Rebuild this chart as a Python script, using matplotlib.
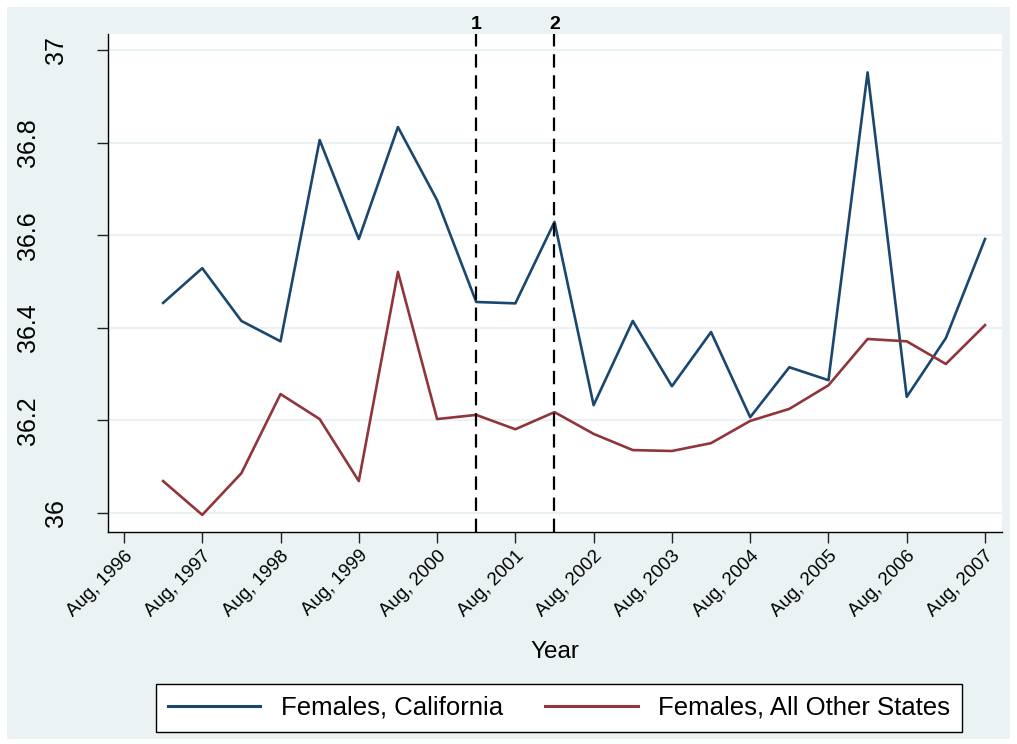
import matplotlib
matplotlib.use("Agg")
import matplotlib.pyplot as plt
from matplotlib.patches import Rectangle

# half-yearly observations, Feb 1997 .. Aug 2007
periods = [(y, m) for y in range(1997, 2008) for m in (2, 8)]
california = [36.454, 36.529, 36.415, 36.371, 36.806, 36.592, 36.834, 36.676,
              36.456, 36.453, 36.629, 36.233, 36.415, 36.274, 36.391, 36.207,
              36.315, 36.287, 36.952, 36.251, 36.378, 36.592]
other_states = [36.069, 35.996, 36.086, 36.257, 36.203, 36.069, 36.521, 36.203,
                36.212, 36.181, 36.218, 36.171, 36.136, 36.134, 36.151, 36.199,
                36.225, 36.276, 36.376, 36.371, 36.322, 36.406]
tick_years = list(range(1996, 2008))
tick_labels = [f"Aug, {y}" for y in tick_years]
yticks = [36, 36.2, 36.4, 36.6, 36.8, 37]
ytick_labels = ["36", "36.2", "36.4", "36.6", "36.8", "37"]
event_dates = [(2001, 2), (2002, 2)]
event_labels = ["1", "2"]

def to_x(y, m):
    return y + (m - 1) / 12.0

x = [to_x(y, m) for y, m in periods]
xticks = [to_x(y, 8) for y in tick_years]

navy = "#1A476F"
maroon = "#90353B"
bg = "#EAF2F3"

plt.rcParams['font.family'] = ['Liberation Sans', 'DejaVu Sans']

fig = plt.figure(figsize=(10.17, 7.44), dpi=100)
fig.patch.set_facecolor("white")
W, H = 1017, 744
fig.patches.append(Rectangle((7 / W, 5 / H), 1003 / W, 732 / H, transform=fig.transFigure,
                             facecolor=bg, edgecolor="none", zorder=-5))

ax_left, ax_w = 108, 1002 - 108
ax = fig.add_axes([ax_left / W, 1 - 532 / H, ax_w / W, (532 - 34) / H])
ax.set_zorder(1)
ax.set_facecolor("white")

ax.plot(x, california, color=navy, lw=1.9, label="Females, California", zorder=3)
ax.plot(x, other_states, color=maroon, lw=1.9, label="Females, All Other States", zorder=3)

for (y, m), lab in zip(event_dates, event_labels):
    xe = to_x(y, m)
    ax.axvline(xe, color="black", lw=1.6, linestyle=(0, (6, 3.5)), zorder=4)
    ax.text(xe, 1.003, lab, transform=ax.get_xaxis_transform(), ha="center", va="bottom",
            fontsize=14, fontweight="bold")

ax.set_xlim(xticks[0] - 0.204, xticks[-1] + 0.217)
ax.set_ylim(35.959, 37.035)
ax.set_yticks(yticks)
ax.set_yticklabels([])
# vertical y labels, placed the way the original sets them (short ones closer to the axis)
for v, lab in zip(yticks, ytick_labels):
    cx = 56 if len(lab) <= 2 else 28
    ax.text((cx - ax_left) / ax_w, v, lab, transform=ax.get_yaxis_transform(), rotation=90,
            ha="center", va="center", fontsize=18, clip_on=False)
ax.set_xticks(xticks)
ax.set_xticklabels(tick_labels, rotation=45, ha="right", rotation_mode="anchor", fontsize=13.5)
ax.tick_params(axis="both", length=8, width=1, color="#222222")
ax.tick_params(axis="x", pad=3)
ax.grid(axis="y", color=bg, lw=1.5)
ax.set_axisbelow(True)

for s in ("top", "right"):
    ax.spines[s].set_visible(False)
for s in ("left", "bottom"):
    ax.spines[s].set_color("black")
    ax.spines[s].set_linewidth(1)

fig.text(555 / W, 1 - 652 / H, "Year", ha="center", va="center", fontsize=17.5)

leg = fig.legend(loc="center", bbox_to_anchor=(559 / W, 1 - 708 / H), ncol=2, fontsize=18.5,
                 frameon=True, fancybox=False, edgecolor="black", framealpha=1,
                 handlelength=3.6, columnspacing=1.65, borderpad=0.45, handletextpad=0.8)
leg.get_frame().set_linewidth(1)
for line in leg.get_lines():
    line.set_linewidth(2.2)

fig.savefig("out.png", dpi=100, facecolor=fig.get_facecolor())
